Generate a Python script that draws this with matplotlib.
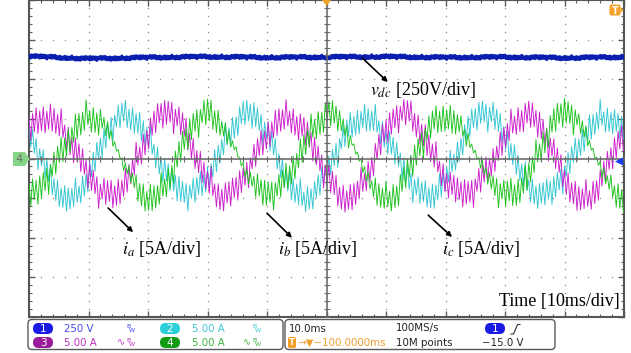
import numpy as np
import matplotlib
matplotlib.use('Agg')
import matplotlib.pyplot as plt
from matplotlib.patches import FancyBboxPatch, Polygon

plt.rcParams['mathtext.fontset'] = 'stix'

time_ms = [-50, -48, -46, -44, -42, -40, -38, -36, -34, -32,
           -30, -28, -26, -24, -22, -20, -18, -16, -14, -12,
           -10, -8, -6, -4, -2, 0, 2, 4, 6, 8,
           10, 12, 14, 16, 18, 20, 22, 24, 26, 28,
           30, 32, 34, 36, 38, 40, 42, 44, 46, 48, 50]

# phase a current (magenta), divisions (5 A/div)
ia_div = [0.63, 1.05, 1.09, 0.74, 0.14, -0.49, -0.91, -0.95, -0.60, 0.00,
          0.63, 1.05, 1.09, 0.74, 0.14, -0.49, -0.91, -0.95, -0.60, 0.00,
          0.63, 1.05, 1.09, 0.74, 0.14, -0.49, -0.91, -0.95, -0.60, 0.00,
          0.63, 1.05, 1.09, 0.74, 0.14, -0.49, -0.91, -0.95, -0.60, 0.00,
          0.63, 1.05, 1.09, 0.74, 0.14, -0.49, -0.91, -0.95, -0.60, 0.00, 0.63]
# phase b current (green)
ib_div = [-0.98, -0.82, -0.32, 0.33, 0.88, 1.12, 0.96, 0.46, -0.19, -0.74,
          -0.98, -0.82, -0.32, 0.33, 0.88, 1.12, 0.96, 0.46, -0.19, -0.74,
          -0.98, -0.82, -0.32, 0.33, 0.88, 1.12, 0.96, 0.46, -0.19, -0.74,
          -0.98, -0.82, -0.32, 0.33, 0.88, 1.12, 0.96, 0.46, -0.19, -0.74,
          -0.98, -0.82, -0.32, 0.33, 0.88, 1.12, 0.96, 0.46, -0.19, -0.74, -0.98]
# phase c current (cyan)
ic_div = [0.58, -0.06, -0.65, -0.96, -0.88, -0.44, 0.20, 0.79, 1.10, 1.02,
          0.58, -0.06, -0.65, -0.96, -0.88, -0.44, 0.20, 0.79, 1.10, 1.02,
          0.58, -0.06, -0.65, -0.96, -0.88, -0.44, 0.20, 0.79, 1.10, 1.02,
          0.58, -0.06, -0.65, -0.96, -0.88, -0.44, 0.20, 0.79, 1.10, 1.02,
          0.58, -0.06, -0.65, -0.96, -0.88, -0.44, 0.20, 0.79, 1.10, 1.02, 0.58]

# dc-link voltage (250 V/div)
vdc_time_ms = [-50, -40, -30, -20, -10, 0, 10, 20, 30, 40, 50]
vdc_div = [2.58, 2.52, 2.55, 2.57, 2.55, 2.56, 2.57, 2.55, 2.56, 2.54, 2.56]

# switching ripple half-width (div)
ripple_a = 0.42
ripple_b = 0.42
ripple_b_fall = 0.10
ripple_c = 0.40
vdc_ripple = 0.05

# ---------------- figure ----------------
W, H = 631, 353
fig = plt.figure(figsize=(W / 100, H / 100), dpi=100, facecolor='white')
ax = fig.add_axes([29 / W, 36 / H, 595 / W, 317 / H])
ax.set_xlim(-5, 5)
ax.set_ylim(-4, 4)
ax.set_facecolor('white')

# grid dots
minor = np.round(np.arange(-5, 5.001, 0.2), 3)
minor_y = np.round(np.arange(-4, 4.001, 0.2), 3)
for gx in range(-4, 5):
    if gx == 0:
        continue
    ax.plot(np.full_like(minor_y, gx), minor_y, ls='none', marker='s', ms=0.9,
            color='#8c8c8c', mew=0, zorder=1)
for gy in range(-3, 4):
    if gy == 0:
        continue
    ax.plot(minor, np.full_like(minor, gy), ls='none', marker='s', ms=0.9,
            color='#8c8c8c', mew=0, zorder=1)

pattern = [1.0, 0.55, 0.9, 0.35, 0.95, 0.75, 0.45, 0.85, 0.6, 1.0, 0.3, 0.8,
           0.7, 0.95, 0.5, 0.88, 0.4, 0.78, 0.98, 0.62, 0.25]
t_dense = np.arange(-50, 50.001, 0.3)
k = np.arange(len(t_dense))


def trace(vals, r_up, r_down, shift):
    base = np.interp(t_dense, time_ms, vals)
    slope = np.gradient(base)
    smax = np.abs(slope).max()
    fall = np.clip(-slope / smax, 0, 1) ** 3
    r = r_up + (r_down - r_up) * fall
    mod = np.array([pattern[(i + shift) % len(pattern)] for i in k])
    sign = np.where(k % 2 == 0, 1.0, -1.0)
    return base + r * mod * sign


ya = trace(ia_div, ripple_a, ripple_a, 0)
yb = trace(ib_div, ripple_b, ripple_b_fall, 7)
yc = trace(ic_div, ripple_c, ripple_c, 13)
x_dense = t_dense / 10.0

ax.plot(x_dense, yc, color='#33c6d3', lw=0.65, zorder=3)
ax.plot(x_dense, ya, color='#cc1ecc', lw=0.65, zorder=3)
ax.plot(x_dense, yb, color='#1ec21e', lw=0.65, zorder=3)

# dc-link voltage
tv = np.arange(-50, 50.001, 0.2)
vbase = np.interp(tv, vdc_time_ms, vdc_div)
kv = np.arange(len(tv))
vmod = np.array([pattern[(i + 3) % len(pattern)] for i in kv])
vsign = np.where(kv % 2 == 0, 1.0, -1.0)
ax.plot(tv / 10.0, vbase + vdc_ripple * vmod * vsign, color='#0a1eb0', lw=2.2, zorder=4)

# centre crosshair with ticks
ax.axvline(0, color='#6a6a6a', lw=1.3, zorder=5, alpha=0.9)
ax.axhline(0, color='#6a6a6a', lw=1.3, zorder=5, alpha=0.9)
ax.plot(np.zeros_like(minor_y), minor_y, ls='none', marker='_', ms=4, mew=0.8,
        color='#6a6a6a', zorder=5)
ax.plot(minor, np.zeros_like(minor), ls='none', marker='|', ms=4, mew=0.8,
        color='#6a6a6a', zorder=5)

# frame ticks
ax.set_xticks(range(-5, 6))
ax.set_yticks(range(-4, 5))
ax.set_xticks(minor, minor=True)
ax.set_yticks(minor_y, minor=True)
ax.tick_params(which='both', direction='in', top=True, right=True,
               labelbottom=False, labelleft=False, color='#5a5a5a')
ax.tick_params(which='major', length=4, width=1)
ax.tick_params(which='minor', length=2.5, width=0.8)
for s in ax.spines.values():
    s.set_color('#555555')
    s.set_linewidth(1.5)

# annotations
serif = 'Liberation Serif'
arrow = dict(arrowstyle='-|>', color='black', lw=1.2, mutation_scale=7,
             shrinkA=0, shrinkB=0)
ax.annotate('', xy=(1.03, 1.93), xytext=(0.60, 2.54), arrowprops=arrow, zorder=6)
ax.text(0.73, 1.73, r'$v_{dc}$ [250V/div]', fontsize=13, family=serif,
        va='center', ha='left', zorder=6)
ax.annotate('', xy=(-3.25, -1.86), xytext=(-3.67, -1.25), arrowprops=arrow, zorder=6)
ax.text(-3.44, -2.29, r'$i_a$ [5A/div]', fontsize=13, family=serif,
        va='center', ha='left', zorder=6)
ax.annotate('', xy=(-0.58, -2.0), xytext=(-1.0, -1.38), arrowprops=arrow, zorder=6)
ax.text(-0.82, -2.29, r'$i_b$ [5A/div]', fontsize=13, family=serif,
        va='center', ha='left', zorder=6)
ax.annotate('', xy=(2.11, -1.98), xytext=(1.71, -1.43), arrowprops=arrow, zorder=6)
ax.text(1.94, -2.29, r'$i_c$ [5A/div]', fontsize=13, family=serif,
        va='center', ha='left', zorder=6)
ax.text(4.93, -3.62, 'Time [10ms/div]', fontsize=13, family=serif,
        va='center', ha='right', zorder=6)

# ---------------- overlay in pixel units (scope decorations) ----------------
ov = fig.add_axes([0, 0, 1, 1], zorder=10)
ov.set_xlim(0, W)
ov.set_ylim(H, 0)
ov.axis('off')
ov.patch.set_alpha(0)

# channel-4 ground marker
ov.add_patch(Polygon([(13, 152), (25, 152), (29.5, 159), (25, 166), (13, 166)],
                     closed=True, facecolor='#86d486', edgecolor='none'))
ov.text(19.5, 159.5, '4', fontsize=8, color='#6e6e6e', ha='center', va='center')

# trigger position marker (top)
ov.add_patch(Polygon([(322, 0), (331, 0), (326.5, 6)], closed=True,
                     facecolor='#f0a020', edgecolor='none'))
# T marker top right
ov.add_patch(FancyBboxPatch((609.5, 4.5), 11, 11, boxstyle='round,pad=0,rounding_size=2',
                            facecolor='#f5a02a', edgecolor='none'))
ov.add_patch(Polygon([(620.5, 7), (623.5, 10), (620.5, 13)], closed=True,
                     facecolor='#f5a02a', edgecolor='none'))
ov.text(615, 10.5, 'T', fontsize=7, color='white', weight='bold', ha='center', va='center')
# trigger level marker (right)
ov.add_patch(Polygon([(615, 161.5), (623, 157.5), (623, 165.5)], closed=True,
                     facecolor='#1a3cf5', edgecolor='none'))

# bottom info panel
for (x0, x1) in [(28, 283), (285, 555)]:
    ov.add_patch(FancyBboxPatch((x0, 319.5), x1 - x0, 30, boxstyle='round,pad=0,rounding_size=4',
                                facecolor='white', edgecolor='#5a5a5a', lw=1.0))


def pill(cx, cy, color, label):
    ov.add_patch(FancyBboxPatch((cx - 10, cy - 5.5), 20, 11,
                                boxstyle='round,pad=0,rounding_size=5.5',
                                facecolor=color, edgecolor='none'))
    ov.text(cx, cy + 0.3, label, fontsize=7.5, color='white', ha='center', va='center')


def bw(x, y, color, wave=False):
    if wave:
        ov.text(x - 9, y, '∿', fontsize=7, color=color, ha='left', va='center')
    ov.text(x, y - 2.2, 'B', fontsize=4.5, color=color, ha='left', va='center')
    ov.text(x + 2.5, y + 1.5, 'W', fontsize=4.5, color=color, ha='left', va='center')


r1, r2 = 328.5, 342.5
fs = 7.4
pill(43, r1, '#1a1ae6', '1')
ov.text(64, r1, '250 V', fontsize=fs, color='#4848f0', ha='left', va='center')
bw(126, r1, '#4848f0')
pill(170, r1, '#2ccfd8', '2')
ov.text(192, r1, '5.00 A', fontsize=fs, color='#3cc8d8', ha='left', va='center')
bw(252, r1, '#3cc8d8')

pill(43, r2, '#9a1c9a', '3')
ov.text(64, r2, '5.00 A', fontsize=fs, color='#c030c0', ha='left', va='center')
bw(126, r2, '#c030c0', wave=True)
pill(170, r2, '#139a13', '4')
ov.text(192, r2, '5.00 A', fontsize=fs, color='#3cb43c', ha='left', va='center')
bw(252, r2, '#3cb43c', wave=True)

ov.text(289, r1, '10.0ms', fontsize=fs, color='#222222', ha='left', va='center')
ov.text(396, r1, '100MS/s', fontsize=fs, color='#222222', ha='left', va='center')
pill(495, r1, '#1a1ae6', '1')
ov.plot([511, 513.5, 517.5, 520], [334, 334, 324.5, 324.5], color='#333333', lw=0.8)

ov.add_patch(FancyBboxPatch((288, 337), 8, 11, boxstyle='round,pad=0,rounding_size=1.5',
                            facecolor='#f5a02a', edgecolor='none'))
ov.text(292, r2, 'T', fontsize=6, color='white', weight='bold', ha='center', va='center')
ov.text(297, r2, '→▼−100.0000ms', fontsize=fs, color='#f0a030', ha='left', va='center')
ov.text(396, r2, '10M points', fontsize=fs, color='#222222', ha='left', va='center')
ov.text(482, r2, '−15.0 V', fontsize=fs, color='#222222', ha='left', va='center')

fig.savefig('out.png', dpi=100, facecolor='white')
